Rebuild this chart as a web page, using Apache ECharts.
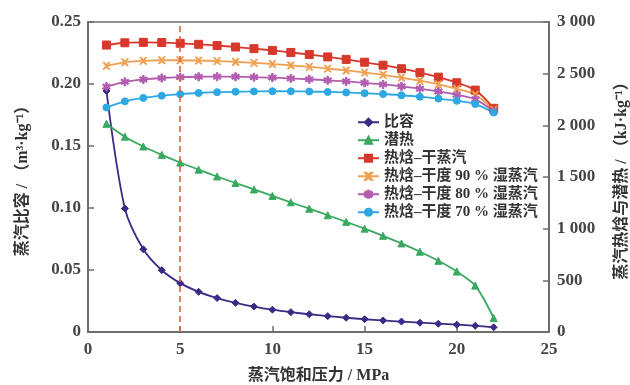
<!DOCTYPE html>
<html><head><meta charset="utf-8">
<script src="https://cdn.jsdelivr.net/npm/echarts@6/dist/echarts.min.js"></script>
<style>html,body{margin:0;padding:0;background:#fff}#c{width:630px;height:385px}</style>
</head><body><div id="c"></div>
<script>
const pressure = [1,2,3,4,5,6,7,8,9,10,11,12,13,14,15,16,17,18,19,20,21,22];
const specVolume = [0.1944,0.0996,0.0667,0.0498,0.0394,0.0324,0.0274,0.0235,0.0205,0.0180,0.0160,0.0143,0.0128,0.0115,0.0103,0.0093,0.0084,0.0075,0.0067,0.0059,0.0050,0.0038];
const latentHeat = [2015,1890,1795,1714,1640,1571,1505,1442,1380,1317,1255,1193,1130,1066,1000,931,857,777,689,585,449,135];
const hDry = [2777,2799,2803,2801,2794,2784,2772,2758,2742,2725,2705,2685,2662,2638,2611,2582,2548,2510,2466,2412,2341,2165];
const h90 = [2576,2610,2624,2630,2630,2627,2622,2614,2604,2593,2580,2566,2549,2531,2511,2489,2462,2432,2397,2354,2296,2151];
const h80 = [2374,2421,2444,2458,2466,2470,2471,2470,2466,2462,2454,2446,2436,2425,2411,2396,2377,2355,2328,2295,2251,2137];
const h70 = [2173,2232,2265,2287,2302,2313,2321,2325,2328,2330,2329,2327,2323,2318,2311,2303,2291,2277,2259,2237,2206,2123];
const seriesNames = ['比容','潜热','热焓–干蒸汽','热焓–干度 90 % 湿蒸汽','热焓–干度 80 % 湿蒸汽','热焓–干度 70 % 湿蒸汽'];
const xTicks = [0,5,10,15,20,25];
const markPressure = 5;

const FONT = "'Liberation Serif','Noto Sans CJK SC',serif";
const pair = a => pressure.map((p,i)=>[p,a[i]]);
const axisCol = '#6e6e6e';
const lbl = {fontFamily:FONT,fontWeight:'bold',fontSize:17,color:'#444'};
const nameStyle = {fontFamily:FONT,fontWeight:'bold',fontSize:16,color:'#333'};
function thou(v){ if(v<1000) return String(v); const s=String(v); return s.slice(0,s.length-3)+' '+s.slice(-3); }

function mk(name, data, color, symbol, size, yIdx, extra){
  return Object.assign({
    name, type:'line', yAxisIndex:yIdx, data:pair(data), smooth:0.3,
    symbol, symbolSize:size, showSymbol:true,
    lineStyle:{color, width:1.8}, itemStyle:{color, borderColor:color, borderWidth:1},
    z: 3
  }, extra||{});
}
const xSym = 'path://M0,0L2,0L5,3L8,0L10,0L6,5L10,10L8,10L5,7L2,10L0,10L4,5Z';
const starSym = 'path://M4,0L6,0L6,3.5L9,1.5L10,3L7,5L10,7L9,8.5L6,6.5L6,10L4,10L4,6.5L1,8.5L0,7L3,5L0,3L1,1.5L4,3.5Z';

const chart = echarts.init(document.getElementById('c'), null, {renderer:'canvas'});
chart.setOption({
  backgroundColor:'#fff',
  animation:false,
  grid:{left:88,right:81,top:22,bottom:53,containLabel:false,outerBoundsMode:'none',show:true,borderColor:axisCol,borderWidth:1.5,backgroundColor:'transparent'},
  legend:{
    orient:'vertical', left:352, top:109, itemGap:1.5, itemWidth:21, itemHeight:9,
    data:seriesNames,
    textStyle:{fontFamily:FONT,fontWeight:'bold',fontSize:15,color:'#333',lineHeight:16.5}
  },
  xAxis:{
    type:'value', min:0, max:25, interval:5,
    name:'蒸汽饱和压力 / MPa', nameLocation:'middle', nameGap:36,
    nameTextStyle:nameStyle,
    axisLine:{lineStyle:{color:axisCol,width:2}},
    axisTick:{inside:true,length:6,lineStyle:{color:axisCol,width:1.5}},
    axisLabel:Object.assign({margin:9,formatter:v=>xTicks.includes(v)?String(v):''},lbl),
    splitLine:{show:false}
  },
  yAxis:[{
    type:'value', min:0, max:0.25, interval:0.05, position:'left',
    name:'蒸汽比容 / （m³·kg⁻¹）', nameLocation:'middle', nameGap:57, nameRotate:90,
    nameTextStyle:nameStyle,
    axisLine:{show:true,lineStyle:{color:axisCol,width:2}},
    axisTick:{show:true,inside:true,length:6,lineStyle:{color:axisCol,width:1.5}},
    axisLabel:Object.assign({margin:7,formatter:v=>v===0?'0':v.toFixed(2)},lbl),
    splitLine:{show:false}
  },{
    type:'value', min:0, max:3000, interval:500, position:'right',
    name:'蒸汽热焓与潜热 / （kJ·kg⁻¹）', nameLocation:'middle', nameGap:65, nameRotate:90,
    nameTextStyle:nameStyle,
    axisLine:{show:true,lineStyle:{color:axisCol,width:2}},
    axisTick:{show:true,inside:true,length:6,lineStyle:{color:axisCol,width:1.5}},
    axisLabel:Object.assign({margin:8,formatter:thou},lbl),
    splitLine:{show:false}
  }],
  series:[
    mk(seriesNames[0], specVolume, '#3b2a86', 'diamond', 7, 0, {
      markLine:{silent:true,symbol:['none','none'],label:{show:false},
        lineStyle:{color:'#e2603e',type:[6,4],width:1.6},
        data:[{xAxis:markPressure}]}
    }),
    mk(seriesNames[1], latentHeat, '#3aa860', 'triangle', 7, 1),
    mk(seriesNames[2], hDry, '#d8382c', 'rect', 8, 1),
    mk(seriesNames[3], h90, '#f0a050', xSym, 7, 1),
    mk(seriesNames[4], h80, '#b25cb0', starSym, 8, 1),
    mk(seriesNames[5], h70, '#2ea8e2', 'circle', 7, 1)
  ]
});
</script></body></html>
